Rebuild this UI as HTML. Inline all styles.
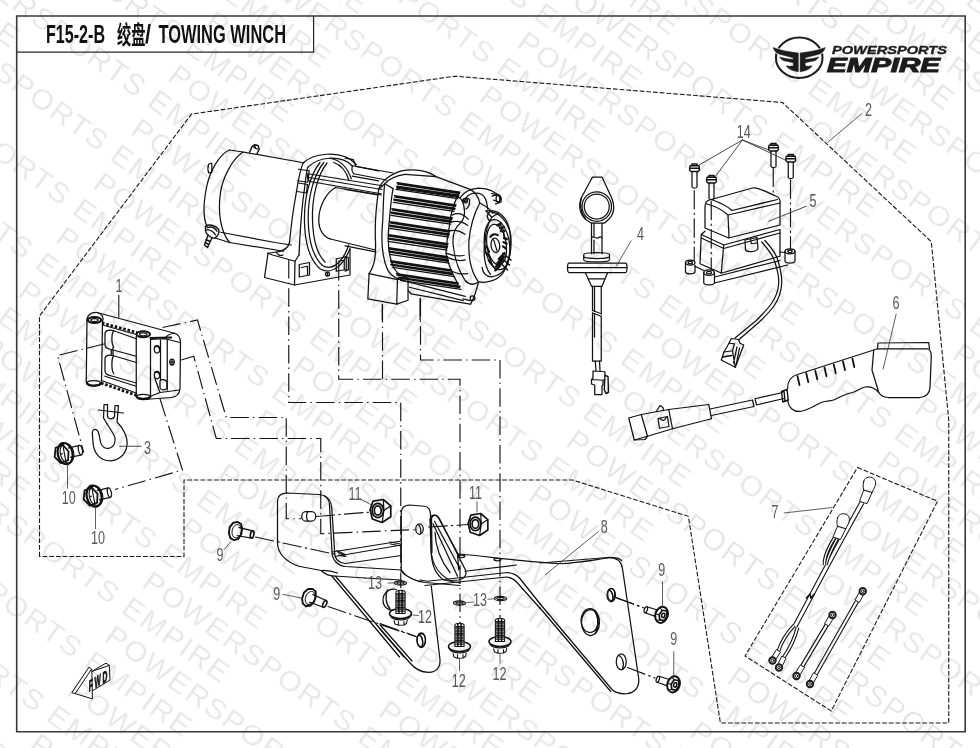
<!DOCTYPE html>
<html><head><meta charset="utf-8"><title>F15-2-B TOWING WINCH</title>
<style>
html,body{margin:0;padding:0;background:#fff;}
body{width:980px;height:748px;overflow:hidden;position:relative;font-family:"Liberation Sans","Noto Sans CJK SC",sans-serif;}
svg{position:absolute;left:0;top:0;display:block}
.z *{vector-effect:non-scaling-stroke}
.k{fill:none;stroke:#111;stroke-width:1.25;stroke-linecap:round;stroke-linejoin:round}
.kw{fill:#fff;stroke:#1a1a1a;stroke-width:1;stroke-linecap:round;stroke-linejoin:round}
.b{fill:none;stroke:#111;stroke-width:1.4;stroke-linecap:round;stroke-linejoin:round}
.t{fill:none;stroke:#2a2a2a;stroke-width:.7;stroke-linecap:round;stroke-linejoin:round}
.w{fill:#fff;stroke:#1a1a1a;stroke-width:1;stroke-linejoin:round}
.d{fill:none;stroke:#1a1a1a;stroke-width:1.1;stroke-dasharray:4.8 1.9}
.c{fill:none;stroke:#151515;stroke-width:1.15;stroke-dasharray:18.5 4.2 1.4 4.2}
.l{fill:none;stroke:#333;stroke-width:.8}
.n{font-family:"Liberation Sans",sans-serif;font-size:17px;fill:#444;}
</style></head><body>
<svg width="980" height="748" viewBox="0 0 980 748">
<g opacity="0.999">
<g font-family="'Liberation Sans', sans-serif" font-size="30" fill="#e5e5e5" stroke="#fff" stroke-width="0.3" letter-spacing="1.75">
<text transform="translate(976.5 -149.1) rotate(35.6)">POWERSPORTS EMPIRE</text>
<text transform="translate(939.1 -95.1) rotate(35.6)">POWERSPORTS EMPIRE</text>
<text transform="translate(702.7 -223.9) rotate(35.6)">POWERSPORTS EMPIRE</text>
<text transform="translate(901.6 -41.1) rotate(35.6)">POWERSPORTS EMPIRE</text>
<text transform="translate(665.2 -169.9) rotate(35.6)">POWERSPORTS EMPIRE</text>
<text transform="translate(864.1 12.9) rotate(35.6)">POWERSPORTS EMPIRE</text>
<text transform="translate(627.7 -115.9) rotate(35.6)">POWERSPORTS EMPIRE</text>
<text transform="translate(391.3 -244.7) rotate(35.6)">POWERSPORTS EMPIRE</text>
<text transform="translate(826.6 66.9) rotate(35.6)">POWERSPORTS EMPIRE</text>
<text transform="translate(590.2 -61.9) rotate(35.6)">POWERSPORTS EMPIRE</text>
<text transform="translate(353.8 -190.7) rotate(35.6)">POWERSPORTS EMPIRE</text>
<text transform="translate(789.1 120.9) rotate(35.6)">POWERSPORTS EMPIRE</text>
<text transform="translate(552.7 -7.9) rotate(35.6)">POWERSPORTS EMPIRE</text>
<text transform="translate(988.0 303.7) rotate(35.6)">POWERSPORTS EMPIRE</text>
<text transform="translate(316.4 -136.7) rotate(35.6)">POWERSPORTS EMPIRE</text>
<text transform="translate(751.6 174.9) rotate(35.6)">POWERSPORTS EMPIRE</text>
<text transform="translate(515.2 46.1) rotate(35.6)">POWERSPORTS EMPIRE</text>
<text transform="translate(950.5 357.7) rotate(35.6)">POWERSPORTS EMPIRE</text>
<text transform="translate(278.9 -82.7) rotate(35.6)">POWERSPORTS EMPIRE</text>
<text transform="translate(714.1 228.9) rotate(35.6)">POWERSPORTS EMPIRE</text>
<text transform="translate(42.5 -211.5) rotate(35.6)">POWERSPORTS EMPIRE</text>
<text transform="translate(477.7 100.1) rotate(35.6)">POWERSPORTS EMPIRE</text>
<text transform="translate(913.0 411.7) rotate(35.6)">POWERSPORTS EMPIRE</text>
<text transform="translate(241.4 -28.7) rotate(35.6)">POWERSPORTS EMPIRE</text>
<text transform="translate(676.6 282.9) rotate(35.6)">POWERSPORTS EMPIRE</text>
<text transform="translate(5.0 -157.5) rotate(35.6)">POWERSPORTS EMPIRE</text>
<text transform="translate(440.3 154.1) rotate(35.6)">POWERSPORTS EMPIRE</text>
<text transform="translate(875.5 465.7) rotate(35.6)">POWERSPORTS EMPIRE</text>
<text transform="translate(203.9 25.3) rotate(35.6)">POWERSPORTS EMPIRE</text>
<text transform="translate(639.1 336.9) rotate(35.6)">POWERSPORTS EMPIRE</text>
<text transform="translate(-32.5 -103.5) rotate(35.6)">POWERSPORTS EMPIRE</text>
<text transform="translate(402.8 208.1) rotate(35.6)">POWERSPORTS EMPIRE</text>
<text transform="translate(838.0 519.7) rotate(35.6)">POWERSPORTS EMPIRE</text>
<text transform="translate(-268.9 -232.3) rotate(35.6)">POWERSPORTS EMPIRE</text>
<text transform="translate(166.4 79.3) rotate(35.6)">POWERSPORTS EMPIRE</text>
<text transform="translate(601.6 390.9) rotate(35.6)">POWERSPORTS EMPIRE</text>
<text transform="translate(-70.0 -49.5) rotate(35.6)">POWERSPORTS EMPIRE</text>
<text transform="translate(365.3 262.1) rotate(35.6)">POWERSPORTS EMPIRE</text>
<text transform="translate(800.5 573.7) rotate(35.6)">POWERSPORTS EMPIRE</text>
<text transform="translate(-306.4 -178.3) rotate(35.6)">POWERSPORTS EMPIRE</text>
<text transform="translate(128.9 133.3) rotate(35.6)">POWERSPORTS EMPIRE</text>
<text transform="translate(564.2 444.9) rotate(35.6)">POWERSPORTS EMPIRE</text>
<text transform="translate(999.4 756.5) rotate(35.6)">POWERSPORTS EMPIRE</text>
<text transform="translate(-107.5 4.5) rotate(35.6)">POWERSPORTS EMPIRE</text>
<text transform="translate(327.8 316.1) rotate(35.6)">POWERSPORTS EMPIRE</text>
<text transform="translate(763.0 627.7) rotate(35.6)">POWERSPORTS EMPIRE</text>
<text transform="translate(-343.8 -124.3) rotate(35.6)">POWERSPORTS EMPIRE</text>
<text transform="translate(91.4 187.3) rotate(35.6)">POWERSPORTS EMPIRE</text>
<text transform="translate(526.7 498.9) rotate(35.6)">POWERSPORTS EMPIRE</text>
<text transform="translate(-145.0 58.5) rotate(35.6)">POWERSPORTS EMPIRE</text>
<text transform="translate(290.3 370.1) rotate(35.6)">POWERSPORTS EMPIRE</text>
<text transform="translate(725.5 681.7) rotate(35.6)">POWERSPORTS EMPIRE</text>
<text transform="translate(53.9 241.3) rotate(35.6)">POWERSPORTS EMPIRE</text>
<text transform="translate(489.2 552.9) rotate(35.6)">POWERSPORTS EMPIRE</text>
<text transform="translate(-182.5 112.5) rotate(35.6)">POWERSPORTS EMPIRE</text>
<text transform="translate(252.8 424.1) rotate(35.6)">POWERSPORTS EMPIRE</text>
<text transform="translate(688.1 735.7) rotate(35.6)">POWERSPORTS EMPIRE</text>
<text transform="translate(16.4 295.3) rotate(35.6)">POWERSPORTS EMPIRE</text>
<text transform="translate(451.7 606.9) rotate(35.6)">POWERSPORTS EMPIRE</text>
<text transform="translate(-219.9 166.5) rotate(35.6)">POWERSPORTS EMPIRE</text>
<text transform="translate(215.3 478.1) rotate(35.6)">POWERSPORTS EMPIRE</text>
<text transform="translate(-21.1 349.3) rotate(35.6)">POWERSPORTS EMPIRE</text>
<text transform="translate(414.2 660.9) rotate(35.6)">POWERSPORTS EMPIRE</text>
<text transform="translate(-257.4 220.5) rotate(35.6)">POWERSPORTS EMPIRE</text>
<text transform="translate(177.8 532.1) rotate(35.6)">POWERSPORTS EMPIRE</text>
<text transform="translate(-58.6 403.3) rotate(35.6)">POWERSPORTS EMPIRE</text>
<text transform="translate(376.7 714.9) rotate(35.6)">POWERSPORTS EMPIRE</text>
<text transform="translate(-294.9 274.5) rotate(35.6)">POWERSPORTS EMPIRE</text>
<text transform="translate(140.3 586.1) rotate(35.6)">POWERSPORTS EMPIRE</text>
<text transform="translate(-96.0 457.3) rotate(35.6)">POWERSPORTS EMPIRE</text>
<text transform="translate(339.2 768.9) rotate(35.6)">POWERSPORTS EMPIRE</text>
<text transform="translate(-332.4 328.5) rotate(35.6)">POWERSPORTS EMPIRE</text>
<text transform="translate(102.8 640.1) rotate(35.6)">POWERSPORTS EMPIRE</text>
<text transform="translate(-133.5 511.3) rotate(35.6)">POWERSPORTS EMPIRE</text>
<text transform="translate(65.4 694.1) rotate(35.6)">POWERSPORTS EMPIRE</text>
<text transform="translate(-171.0 565.3) rotate(35.6)">POWERSPORTS EMPIRE</text>
<text transform="translate(27.9 748.1) rotate(35.6)">POWERSPORTS EMPIRE</text>
<text transform="translate(-208.5 619.3) rotate(35.6)">POWERSPORTS EMPIRE</text>
<text transform="translate(-246.0 673.3) rotate(35.6)">POWERSPORTS EMPIRE</text>
<text transform="translate(-283.5 727.3) rotate(35.6)">POWERSPORTS EMPIRE</text>
</g>
<!-- 00_defs.svg -->
<defs>
<g id="fb">
<path d="M5,-4.3 L15.5,-4.3 M5,4.3 L15.5,4.3" fill="none" stroke="#151515" stroke-width="1.1"/>
<ellipse cx="15.5" cy="0" rx="1.7" ry="4.3" fill="none" stroke="#151515" stroke-width="1.1"/>
<ellipse cx="1.5" cy="0" rx="6.6" ry="9.6" fill="none" stroke="#111" stroke-width="2"/>
<ellipse cx="3.2" cy="0" rx="6" ry="9" fill="none" stroke="#111" stroke-width="1"/>
<path d="M-5.6,-7.0 L1.3,-8.0 L4.9,-1.2 L2.8,6.2 L-4.2,7.5 L-8.3,0.8 Z" fill="none" stroke="#111" stroke-width="1.6"/>
<path d="M1.2,-8 L0.6,6.6 M-2.5,-0.5 L-0.5,-0.5" fill="none" stroke="#111" stroke-width="1"/>
</g>
</defs>
<defs>
<g id="nut" fill="none" stroke="#111" stroke-width="1.5" stroke-linejoin="round">
<path d="M-7,-8.5 L2,-10 L8.5,-4.5 L8.5,5 L1,10 L-7.5,7 L-9.5,-1 Z"/>
<path d="M2,-10 L2.5,-0.5 L1,10 M2.5,-0.5 L8.5,-4.5" stroke-width="1.1"/>
<ellipse cx="-2.8" cy="-0.5" rx="4.9" ry="6.2"/><ellipse cx="-2.8" cy="-0.5" rx="3" ry="4"/>
</g>
<g id="b12" fill="none" stroke="#111" stroke-width="1.1" stroke-linejoin="round">
<ellipse cx="0" cy="1.5" rx="11" ry="5" stroke-width="1.5"/>
<path d="M-10.6,3 C-8,9.5 8,9.5 10.6,3" stroke-width="1.2"/>
<path d="M-4.6,-19.5 C-4.6,-22.5 4.6,-22.5 4.6,-19.5 L4.6,1.5 L-4.6,1.5 Z" fill="#fff"/>
<path d="M-4.4,-18.5 L4.4,-18.5 M-4.4,-16.8 L4.4,-16.8 M-4.4,-15.0 L4.4,-15.0 M-4.4,-13.2 L4.4,-13.2 M-4.4,-11.5 L4.4,-11.5 M-4.4,-9.8 L4.4,-9.8 M-4.4,-8.0 L4.4,-8.0 M-4.4,-6.2 L4.4,-6.2 M-4.4,-4.5 L4.4,-4.5 M-4.4,-2.8 L4.4,-2.8 M-4.4,-1.0 L4.4,-1.0" stroke-width="1.25" stroke="#222"/>
<path d="M-1.6,-21 L-1.6,1 M1.6,-21 L1.6,1" stroke-width="1.5"/>
<path d="M-6.5,8.3 L-5.5,12 L-2,13.3 L3.5,13 L6,11.5 L6.8,8 M-2,9.3 L-2,13.3 M3.5,9.2 L3.5,13"/>
</g>
<g id="w13" fill="none" stroke="#151515" stroke-width="1.2">
<ellipse cx="0" cy="0" rx="6" ry="2.2"/><ellipse cx="0" cy="0" rx="3.6" ry="1.1"/>
</g>
<g id="b9" fill="none" stroke="#111" stroke-linejoin="round">
<path d="M2,-4.2 L17,-3.7 M2,4.2 L17,3.7" stroke-width="1.2"/>
<ellipse cx="17" cy="0" rx="1.7" ry="3.7" stroke-width="1.7"/>
<path d="M-4,-7.5 L0,-9.3 L4,-8 L6,-3.5 L6.3,2 L4.5,7 L0.5,9.3 L-3.5,8 L-6,3.5 L-6.5,-2.5 Z" stroke-width="1.9"/>
<ellipse cx="1.2" cy="0" rx="4.6" ry="6.8" stroke-width="0.9"/>
</g>
</defs>
<defs>
<g id="b9h" fill="none" stroke="#111" stroke-linejoin="round">
<path d="M5,-3.4 L17,-3.2 M5,3.4 L17,3.2" stroke-width="1.2"/>
<ellipse cx="17" cy="0" rx="1.5" ry="3.2" stroke-width="1.2"/>
<ellipse cx="0.5" cy="0" rx="6.2" ry="8.2" stroke-width="2"/>
<path d="M-3.6,-4.8 L0.6,-5.4 L2.8,-0.6 L1.2,4.6 L-3,5.2 L-5.2,0.4 Z" stroke-width="1.7"/>
<ellipse cx="-1.3" cy="0" rx="1.6" ry="2.2" stroke-width="1.6"/>
<path d="M0.6,-5.4 L3.6,-6.6 M2.8,-0.6 L6,-1 M1.2,4.6 L4,6" stroke-width="1"/>
</g>
</defs>

<!-- 01_frame.svg -->
<g fill="none" stroke="#383838" stroke-width="1.6">
<path d="M16.7 16H965.2V731.8H16.7Z"/>
<path d="M16.7 52H313.6V16" stroke-width="1.25" stroke="#2a2a2a"/>
</g>
<text y="42.7" font-family="'Liberation Sans','Noto Sans CJK SC',sans-serif" font-weight="700" font-size="25" fill="#111"><tspan x="46" textLength="59" lengthAdjust="spacingAndGlyphs">F15-2-B</tspan><tspan x="117" font-size="25.5" dy="1.5" textLength="28.5" lengthAdjust="spacingAndGlyphs">绞盘</tspan><tspan x="145" dy="-1.5" textLength="6" lengthAdjust="spacingAndGlyphs">/</tspan><tspan x="158.5" textLength="127.5" lengthAdjust="spacingAndGlyphs">TOWING WINCH</tspan></text>

<!-- 02_logo.svg -->
<g transform="translate(770 32) scale(0.0749)">
<ellipse cx="390" cy="343" rx="311" ry="270" fill="none" stroke="#1c1c1c" stroke-width="27"/>
<g fill="none" stroke="#fff" stroke-width="24" stroke-linejoin="miter"><path d="M402,280 C520,268 640,245 737,208 C724,258 692,288 640,300 L470,345 L470,365 C540,360 600,350 652,333 C630,372 600,385 560,392 L470,410 L470,455 C500,458 530,458 562,452 C540,490 500,515 402,532 Z"/><path d="M378,280 C260,268 140,245 43,208 C56,258 88,288 140,300 L310,345 L310,365 C240,360 180,350 128,333 C150,372 180,385 220,392 L310,410 L310,455 C280,458 250,458 218,452 C240,490 280,515 378,532 Z"/></g>
<g fill="#1c1c1c" stroke="#1c1c1c" stroke-width="7" stroke-linejoin="miter"><path d="M402,280 C520,268 640,245 737,208 C724,258 692,288 640,300 L470,345 L470,365 C540,360 600,350 652,333 C630,372 600,385 560,392 L470,410 L470,455 C500,458 530,458 562,452 C540,490 500,515 402,532 Z"/><path d="M378,280 C260,268 140,245 43,208 C56,258 88,288 140,300 L310,345 L310,365 C240,360 180,350 128,333 C150,372 180,385 220,392 L310,410 L310,455 C280,458 250,458 218,452 C240,490 280,515 378,532 Z"/></g>
</g>
<g font-family="'Liberation Sans',sans-serif" font-weight="700" font-style="italic" fill="#1c1c1c">
<text x="832" y="53.8" font-size="11" textLength="115" lengthAdjust="spacingAndGlyphs" stroke="#1c1c1c" stroke-width="0.35">POWERSPORTS</text>
<text x="827" y="71.8" font-size="20.3" textLength="113" lengthAdjust="spacingAndGlyphs" stroke="#1c1c1c" stroke-width="1.1">EMPIRE</text>
</g>

<!-- 05_outlines.svg -->
<!-- group outline dashed -->
<g class="d">
<path d="M39.5,556.5 L39.5,316 L191.4,114.1 L454.7,76.2 L782.5,102.5 L931.3,241.7 L948.75,420 L948.75,723 L720.4,723 L688.4,516.3 L572.5,480 L184,480 L184,556.5 Z"/>
<path d="M857.5,467.5 L937.5,501.25 L831.25,711 L745,656 Z"/>
</g>
<!-- centre lines -->
<g class="c">
<path d="M288.75,260 L288.75,402.5 L400.75,402.5 L400.75,588"/>
<path d="M338.75,262 L338.75,379.25 L460,379.25 L460,625"/>
<path d="M382.5,304 L382.5,379.25"/>
<path d="M420.5,298 L420.5,360 L500,360 L500,620"/>
<path d="M162.5,327.5 L197.5,320 L226.25,417.5 L286.25,417.5 L286.25,518.75 L301.5,518.75"/>
<path d="M181.25,360 L193.75,356.25 L216.25,438.5 L320.75,438.5 L320.75,533.75 L417.5,529.5"/>
<path d="M105,343.75 L57.5,355.5 L83.75,452.5"/>
<path d="M160,398.75 L182.5,470 L115,489.5"/>
</g>

<!-- 10_winch_left.svg -->
<g transform="translate(190 125) scale(0.25)" class="k z">
<!-- motor -->
<path d="M158,100 C120,115 80,180 66,250 C52,320 52,370 68,406"/>
<path d="M212,108 C165,140 130,215 122,270 C112,340 118,420 158,470"/>
<path d="M158,100 L212,108 L454,151"/>
<path d="M158,470 L375,505"/>
<path d="M123,429 L340,470 L405,480"/>
<path d="M100,452 L158,470"/>
<!-- studs -->
<path d="M238,110 L248,86 L258,79 L272,82 L277,96 L268,115" class="b"/>
<path d="M250,86 L270,96 M258,79 L262,94"/>
<path d="M75,156 L87,153 L88,188 L75,192 C71,182 71,166 75,156Z"/>
<path d="M62,405 C75,395 100,400 115,418 C118,432 110,445 100,452 C85,455 68,440 62,425Z" class="b"/>
<path d="M70,410 C85,405 100,412 108,425 M66,420 C80,418 95,428 102,440" class="b"/>
<path d="M72,440 L58,480 L70,490 L88,452 M60,470 L76,478 M64,458 L80,466" class="b"/>
<!-- support 1 -->
<path d="M454,151 C470,135 505,120 545,117 C595,114 640,128 665,158"/>
<path d="M470,170 C490,150 520,135 560,133 C600,132 630,142 650,165"/>
<path d="M454,151 C440,170 432,230 422,290 C412,340 405,400 398,470 C392,495 370,505 345,508 L312,513"/>
<path d="M470,170 C462,210 458,260 452,300 C445,360 440,430 436,520"/>
<path d="M312,513 L298,610 L418,640 L640,600 L640,495"/>
<path d="M312,513 L330,520 L420,545 L436,520"/>
<path d="M420,545 L418,640"/>
<path d="M345,508 C350,520 360,525 372,520"/>
<path d="M437,558 L478,550 L478,600 L437,608Z M445,570 L470,565 L470,600"/>
<path d="M585,535 L625,528 L625,578 L585,585Z M593,545 L617,541 L617,578"/>
<circle cx="550" cy="596" r="8"/><path d="M550,590 L550,602"/>
<!-- ring flange of support 1 -->
<path d="M520,150 C480,200 455,290 458,390 C460,470 480,540 520,575 C545,590 575,585 600,560 C620,540 632,515 640,495"/>
<path d="M535,150 C495,200 470,290 473,385 C475,465 495,530 530,562 C552,575 575,570 597,548 C615,528 627,505 635,480"/>
<path d="M548,152 C510,200 487,290 490,380 C492,455 510,518 540,548"/>
<path d="M560,133 C600,140 630,170 645,215"/>
<path d="M575,150 C605,160 625,185 635,220"/>
<path d="M434,177 L477,183 L471,229 L431,223 M433,232 L470,238 L466,272 L428,266"/>
<!-- tie bar front -->
<path d="M472,195 L770,243 M480,226 L765,275 M472,195 C468,205 470,218 480,226"/>
<path d="M476,210 L768,258"/>
<!-- tie bar rear -->
<path d="M650,163 L812,192 M655,195 L785,220 M650,163 C646,175 648,188 655,195"/>
<!-- drum -->
<path d="M582,250 L765,280 M562,456 L742,500"/>
<path d="M582,250 C540,275 515,330 515,380 C515,420 535,450 562,456"/>

</g>

<!-- 11_winch_right.svg -->
<g transform="translate(345 140) scale(0.2406)" class="k z">
<!-- support 2 flange -->
<path d="M100,555 C125,520 130,480 126,400 C124,330 132,260 140,205 C150,170 190,140 240,127 C290,118 345,128 378,152"/>
<path d="M165,182 C158,240 160,300 155,360 C150,430 158,500 180,545 C195,570 225,582 262,590"/>
<path d="M200,202 C190,250 188,300 182,360 C176,430 185,495 205,535 C220,558 240,570 262,575"/>
<path d="M140,205 L165,182 L200,202 M165,182 C185,160 215,148 250,143"/>
<path d="M100,555 L95,660 L215,682 L262,666 L262,575"/>
<path d="M100,555 L130,562 L218,580 L262,575 M218,580 L215,682"/>
<path d="M155,682 L155,748"/>
<!-- rear bar into flange -->
<path d="M0,75 L35,82 L45,110 L140,128 M30,150 L140,170 M0,205 L135,228"/>
<path d="M0,440 L128,465"/>
<path d="M0,485 L14,488 L14,540 L0,545"/>
<!-- gearbox body top/bottom silhouettes -->
<path d="M215,200 L478,240 M250,143 L378,152 L520,205"/>
<path d="M262,590 L500,650 M268,612 L492,668 M275,640 L520,682 M262,625 L275,640"/>
<!-- rib bands -->
<g class="b" style="stroke-width:1.5"><path d="M217,178 L477,217 M219,183 L475,222 M215,192 L473,230 M217,196 L471,235 M206,232 L461,270 M208,237 L459,275 M203,246 L457,284 M205,250 L455,289 M195,286 L446,324 M197,291 L444,329 M192,300 L442,337 M194,304 L440,342 M188,340 L435,377 M190,345 L433,382 M186,354 L433,391 M188,358 L431,396 M182,394 L428,431 M184,399 L426,436 M180,408 L426,444 M182,412 L424,449 M181,448 L426,485 M183,453 L424,490 M183,462 L430,499 M185,466 L428,504 M189,502 L441,540 M191,507 L439,545 M191,516 L447,554 M193,520 L445,559 M214,556 L470,594 M216,561 L468,599 M222,570 L478,608 M224,574 L476,613"/></g>
<path d="M212,205 L469,244 M201,259 L453,297 M191,313 L439,350 M185,367 L431,404 M179,421 L424,458 M185,475 L433,512 M198,529 L455,568 M231,583 L482,621"/>
<path d="M470,226 C455,260 440,300 436,342 C430,390 420,430 420,470 C425,510 440,545 470,600"/>
<path d="M478,240 C500,270 505,320 480,345 C455,365 445,400 450,440 C455,490 470,540 500,585"/>
<path d="M436,342 C460,335 490,340 510,355 M420,470 C445,480 470,485 495,480"/>
<path d="M445,312 C470,300 495,310 512,330 M432,378 C455,372 480,378 498,392"/>
<path d="M425,488 C450,500 475,505 500,498 M436,540 C460,555 485,560 510,555"/>
<!-- end cap -->
<path d="M478,240 C495,215 520,203 555,200 C595,200 630,215 650,245"/>
<path d="M520,205 C540,215 555,235 560,262 C585,275 605,290 615,305"/>
<path d="M560,262 C540,300 520,360 515,420 C512,490 525,550 555,590 C548,620 540,650 522,682"/>
<path d="M600,298 C640,300 675,335 688,390 C695,445 685,510 655,555 C630,585 590,595 555,590"/>
<path d="M500,585 C515,600 535,605 555,590"/>
<!-- knob -->
<ellipse cx="632" cy="435" rx="52" ry="105" transform="rotate(-8 632 435)"/>
<ellipse cx="630" cy="435" rx="40" ry="85" transform="rotate(-8 630 435)"/>
<ellipse cx="625" cy="438" rx="18" ry="30" transform="rotate(-8 625 438)"/>
<path d="M618,415 L632,462"/>
<g class="b">
<path d="M600,300 C590,310 588,325 600,335 M655,470 L690,500 M650,490 L684,520 M645,510 L676,540"/>
<path d="M640,350 C655,360 662,380 660,400 M600,480 C605,510 615,530 630,540"/>
<path d="M585,395 C580,420 580,450 588,475"/>
</g>
<!-- bolts -->
<circle cx="500" cy="252" r="9"/><circle cx="500" cy="252" r="4"/>
<path d="M610,222 L632,228 C645,232 648,248 640,258 L618,250"/>
<ellipse cx="636" cy="243" rx="8" ry="14"/>
<circle cx="530" cy="658" r="10"/><path d="M490,660 L520,668"/>
<path d="M312,660 L312,748"/>
</g>

<!-- 12_winch_knob.svg -->
<g transform="translate(440 170) scale(0.17376)" class="k z">
<path d="M265,235 C290,232 315,236 332,242 C365,262 392,300 402,350 C410,420 402,500 380,556 C365,590 335,612 295,615 C268,612 248,600 242,560"/>
<path d="M265,235 L298,272 L336,248"/>
<path d="M298,272 C280,300 262,360 256,420 C250,490 258,560 290,600"/>
<g class="b" style="stroke-width:2.2">
<path d="M330,318 L352,308 M345,335 L368,328 M350,352 L372,350"/>
<path d="M368,392 L385,398 M365,415 L384,425 M362,440 L380,452"/>
<path d="M338,512 L372,478 M330,535 L368,500 M322,556 L358,524 M318,578 L345,552"/>
<path d="M268,440 L282,470 M272,480 L288,505 M280,520 L296,540"/>
<path d="M290,385 C300,370 318,365 332,375"/>
</g>
<path d="M150,160 C165,140 195,130 225,135 C250,142 262,160 268,185 L275,225"/>
<path d="M130,175 C140,160 160,158 170,170 C172,190 165,215 150,225"/>
<path d="M300,150 L335,140 C350,145 355,165 350,185 L320,195" class="b"/>
</g>

<!-- 20_fairlead.svg -->
<g transform="translate(30 280) scale(0.25)" class="k z">
<!-- fairlead frame -->
<path d="M228,160 C228,140 245,128 268,130 L578,213 C595,218 602,232 602,250 L600,435 C598,455 585,468 565,470 L455,478"/>
<path d="M268,130 C290,135 296,150 290,168 M578,213 C560,215 545,222 540,235"/>
<path d="M228,160 L225,405 C225,418 238,424 258,424 L280,420"/>
<path d="M290,168 L286,405"/>
<path d="M425,225 L425,462 C430,475 470,478 482,465 L482,238"/>
<path d="M482,238 L540,235 L600,250 M482,465 L520,450 L598,440"/>
<path d="M549,238 L549,440"/>
<g class="b" style="stroke-width:2.1"><ellipse cx="258" cy="160" rx="27" ry="12"/><ellipse cx="453" cy="217" rx="27" ry="12"/><path d="M228,412 C235,426 278,426 284,412 M426,466 C433,480 476,480 482,466 M482,232 L565,230"/></g><ellipse cx="258" cy="160" rx="15" ry="6"/>
<ellipse cx="453" cy="217" rx="15" ry="6"/>
<ellipse cx="255" cy="412" rx="27" ry="10"/>
<ellipse cx="453" cy="467" rx="27" ry="10"/>
<!-- knurled edges -->
<g class="b" style="stroke-width:2.8;stroke-dasharray:2.6 1.8;stroke-linecap:butt">
<path d="M288,172 L428,210"/><path d="M284,412 L428,462"/>
</g>
<path d="M290,180 L425,218 M286,402 L425,452"/>
<!-- horizontal rollers -->
<path d="M300,215 C300,200 320,198 335,203 L425,235 M300,215 L300,260 C300,270 310,275 325,278 L425,305"/>
<path d="M335,203 C325,215 325,255 335,268"/>
<path d="M300,315 C300,300 320,298 335,303 L425,330 M300,315 L300,365 C300,378 315,382 330,385 L425,412"/>
<path d="M335,303 C325,315 325,360 335,375"/>
<path d="M325,278 L325,300 M332,268 L332,300"/>
<path d="M300,385 L330,395 L425,425"/>
<!-- side plate holes -->
<ellipse cx="508" cy="277" rx="11" ry="15"/><path d="M500,268 C508,262 516,268 518,277"/>
<ellipse cx="508" cy="380" rx="11" ry="15"/><path d="M500,371 C508,365 516,371 518,380"/>
<ellipse cx="568" cy="328" rx="9" ry="12"/><path d="M560,328 L576,328 M568,318 L568,338"/>
<path d="M520,405 C520,395 545,395 548,410 L548,432 C540,445 522,440 520,430Z"/>
<path d="M522,240 L522,400 M500,395 L520,450"/>
<!-- leader 1 -->
<path d="M355,60 L355,150" style="stroke:#333;stroke-width:.9"/>
<!-- hook -->
<path d="M274,520 L374,532"/>
<path d="M296,498 L310,498 L310,546 C312,558 334,558 338,546 L340,502 L354,502 L348,568 C372,592 392,628 388,660 C384,701 352,723 316,723 C280,721 254,693 252,648 C251,628 248,616 250,606 C252,596 266,594 272,606 C278,620 280,636 282,648 C286,668 304,678 320,672 C336,666 342,648 340,632 C336,612 316,592 294,552 Z"/>
<path d="M360,665 L445,665" style="stroke:#333;stroke-width:.9"/>
</g>
<use href="#fb" transform="translate(63.5 454) rotate(-13) scale(1.12)"/>
<use href="#fb" transform="translate(92.5 496.5) rotate(-13) scale(1.12)"/>
<path class="l" d="M67.5,464 L67.5,488.5 M95.5,506.5 L95.5,529"/>

<!-- 30_bracket.svg -->
<g transform="translate(215 470) scale(0.25)" class="k z">
<!-- tab 1 -->
<path d="M250,125 C250,102 265,92 288,92 L415,98 C440,100 456,112 458,138 L468,330 C470,362 492,383 522,386 L745,400"/>
<path d="M438,103 C455,112 465,128 467,150 L479,335 C481,358 497,372 522,374"/>
<path d="M250,125 L250,295 C252,335 285,368 335,385 L425,402 C440,418 455,424 478,424 L600,432"/>
<path d="M425,402 C450,400 470,405 490,412"/>
<rect x="347" y="166" width="56" height="38" rx="16" ry="18"/>
<path d="M372,166 C364,175 364,195 372,204"/>
<!-- base lines -->
<path d="M469,328 L745,284 M480,346 L745,300 M522,374 L745,342"/>
<path d="M488,322 L520,338 M492,330 L524,346 M700,288 L742,296 M702,296 L744,304"/>
<!-- diagonal edge of left wing -->
<path d="M468,425 L738,748 M482,425 L756,748"/>
<!-- tab 2 -->
<path d="M745,165 C748,148 760,140 778,140 L838,145 C855,148 862,160 862,178 L865,335 C868,380 885,420 915,440 L980,452"/>
<path d="M745,165 L745,405"/>
<ellipse cx="818" cy="236" rx="15" ry="21"/><path d="M812,218 C822,222 826,245 822,255"/>
<path d="M866,195 C868,180 885,176 893,190 L980,350"/>
<path d="M878,205 L980,395 M866,195 L868,330"/>
<path d="M745,405 C770,430 800,445 840,450 L980,462"/>
<path d="M600,432 L745,440 M745,400 L760,418"/>
<!-- big hole behind bolt 12 -->
<path d="M725,478 C700,470 672,490 672,520 C672,548 695,565 715,560"/>
<path d="M690,480 C680,500 682,535 700,555"/>
<!-- hole lower -->
<ellipse cx="825" cy="682" rx="17" ry="28"/><path d="M815,660 C830,665 835,695 828,708"/>
<!-- dash-dot -->
<g class="c"><path d="M405,186 L625,168"/><path d="M162,268 L520,346"/><path d="M452,546 L808,668"/></g>
</g>
<g transform="translate(420 470) scale(0.25)" class="k z">
<!-- gusset -->
<path d="M40,200 C42,178 65,172 78,195 L182,400 C188,420 178,436 155,440 L120,442"/>
<path d="M52,215 L150,425 M40,200 L45,330 C50,380 80,420 120,442"/>
<path d="M60,250 C62,300 80,360 120,410"/>
<!-- top surface and right wing -->
<path d="M150,335 C300,350 450,370 560,375 C640,372 720,355 770,350 C790,350 800,355 806,362"/>
<path d="M180,405 L385,380 M0,440 L30,445 L350,410 C375,412 388,420 398,432 L480,535"/>
<path d="M20,462 L345,428 C365,430 378,438 388,450 L480,553"/>
<ellipse cx="165" cy="345" rx="14" ry="5"/><ellipse cx="310" cy="358" rx="14" ry="5"/>
<path d="M150,335 L155,400"/>
<!-- holes -->
<ellipse cx="765" cy="498" rx="14" ry="24"/><path d="M757,480 C770,485 775,510 770,520"/>
<ellipse cx="682" cy="610" rx="36" ry="52"/><path d="M700,568 C715,590 715,635 700,655"/>
<g class="c"><path d="M35,228 L195,218"/><path d="M785,510 L893,550"/></g>
</g>
<g transform="translate(380 561) scale(0.25)" class="k z">
<!-- left wing lower -->
<path d="M0,272 L120,408 C140,432 165,445 195,445 C225,445 242,425 240,395 L205,100"/>
<path d="M0,255 L128,400"/>
<ellipse cx="165" cy="315" rx="17" ry="28"/><path d="M155,293 C170,298 175,328 168,341"/>
<g class="c"><path d="M0,250 L140,300"/></g>
</g>
<g transform="translate(540 540) scale(0.25)" class="k z">
<path d="M0,92 L270,70 C305,68 325,85 330,115 L395,555 C398,590 378,612 345,615 C318,616 300,610 288,598 L0,255"/>
<path d="M0,272 L283,606"/>
<ellipse cx="285" cy="220" rx="17" ry="27"/><path d="M277,200 C290,205 295,230 290,242"/>
<ellipse cx="200" cy="322" rx="36" ry="48"/><path d="M218,283 C235,300 235,345 220,362"/>
<ellipse cx="325" cy="487" rx="20" ry="32"/><path d="M315,462 C332,468 338,500 330,514"/>
<g class="c"><path d="M305,232 L415,272"/><path d="M350,510 L460,552"/></g>
</g>
<!-- fasteners -->
<use href="#b9" transform="translate(235.5 531) rotate(12)"/>
<use href="#b9" transform="translate(309 597.5) rotate(22)"/>
<use href="#b9h" transform="translate(662 615) rotate(198)"/>
<use href="#b9h" transform="translate(674 684.5) rotate(198)"/>
<use href="#nut" transform="translate(381 511) scale(1.15)"/>
<use href="#nut" transform="translate(478.5 524.5) scale(1.1)"/>
<use href="#b12" transform="translate(400.5 612)"/>
<use href="#b12" transform="translate(459.5 645)"/>
<use href="#b12" transform="translate(500 640)"/>
<use href="#w13" transform="translate(400.5 583)"/>
<use href="#w13" transform="translate(459.5 603)"/>
<use href="#w13" transform="translate(500.5 598.5)"/>

<!-- 40_switch.svg -->
<g transform="translate(520 150) scale(0.25)" class="k z">
<path d="M290,108 L328,108 L366,190 C382,230 374,262 350,282 L338,292 L285,292 L268,282 C238,260 232,225 246,190 Z"/>
<circle cx="307" cy="226" r="59"/><circle cx="307" cy="226" r="50"/>
<path d="M246,190 C238,215 240,250 262,275"/>
<path d="M286,292 L286,415 M328,292 L328,415 M296,292 L296,345 M296,360 L296,415"/>
<path d="M286,350 C295,340 305,360 315,350 C320,345 325,348 328,352"/>
<path d="M255,418 C255,408 358,408 358,418 L358,440 C358,450 255,450 255,440 Z"/>
<path d="M255,428 C270,436 345,436 358,428"/>
<path d="M196,452 L422,452 C430,452 430,490 422,490 L196,490 C188,490 188,452 196,452 Z"/>
<path d="M190,470 L428,470"/>
<path d="M262,492 L286,545 L328,545 L350,492 M272,515 L340,515"/>
<path d="M290,545 L290,642 M325,545 L325,655 M298,545 L298,646"/>
<path d="M290,642 L325,655 M290,652 L325,665"/>
<path d="M290,652 L290,748 M325,665 L325,748 M298,656 L298,748"/>
</g>
<g transform="translate(600 290) scale(0.25)" class="k z">
<!-- cable of switch continues (left edge) -->
<path d="M-30,188 L-30,284 M5,188 L5,284 M-30,284 L5,284"/>
<path d="M-19,284 L-16,322 M-2,284 L0,322"/>
<path d="M-28,324 L20,327 L19,358 L12,361 L12,380 L8,382 L8,418 L-21,418 L-21,380 L-34,376 L-34,358 L-28,352 Z M-34,358 L12,361"/>
<path d="M20,342 L32,346 L34,409 L24,414 L17,399 L19,358" class="b"/>
<!-- solenoid wires -->
<path d="M647,-192 C675,-160 695,-135 700,-110 C710,-80 716,-55 715,-28 C713,5 702,32 685,55 C668,80 645,102 625,122 L540,192"/>
<path d="M660,-198 C690,-165 708,-140 713,-113 C722,-82 728,-55 727,-28 C725,8 714,38 697,62 C680,86 658,108 637,128 L554,200"/>
<!-- small connector -->
<path d="M525,194 L554,198 L560,213 L575,220 L541,309 L485,280 L496,248 L516,213 Z"/>
<path d="M496,248 L530,243 L541,309 M530,243 L538,215 M548,228 L534,292 M558,232 L545,298 M516,213 L538,215" />
<path d="M490,268 L528,262" class="b"/>
<!-- remote plug -->
<path d="M115,512 L165,498 L275,478 L290,555 L190,585 L137,600 Z"/>
<path d="M165,498 L190,585 M137,600 L180,598 L190,585"/>
<path d="M225,486 L240,462 L252,470 L254,482"/>
<path d="M232,514 L270,506 L276,546 L238,553 Z M240,514 C250,525 258,525 266,508"/>
<path d="M275,478 L435,458 L446,515 L290,555"/>
<path d="M440,476 L610,440 M446,502 L616,466 M610,440 L616,466"/>
<path d="M620,435 L730,410 M626,460 L736,434 M620,435 L626,460"/>
</g>
<g transform="translate(735 290) scale(0.25)" class="k z">
<path d="M186,406 L208,398 L213,440 L191,448 Z M196,403 L200,446" class="b"/>
<path d="M210,395 C210,365 225,345 250,338 L555,240"/>
<path d="M211,440 C213,470 235,490 265,485 C300,478 320,460 345,450 C370,440 385,446 400,438 C420,428 440,415 470,410 C490,405 500,392 520,388 C545,384 562,395 575,410"/>
<path d="M555,240 L570,235 L770,235 C783,238 786,250 785,270 L780,390 C778,415 765,428 740,430 L612,430 C592,428 582,422 575,410 L548,320 Z"/>
<path d="M570,235 L572,212 L775,210 L778,236"/>
<g class="b" style="stroke-width:1.8"><path d="M250,345 L258,380 M285,333 L293,368 M321,322 L329,357 M358,310 L366,345 M395,298 L403,333 M432,286 L440,320 M470,275 L477,308"/></g>
</g>

<!-- 41_solenoid.svg -->
<g transform="translate(670 120) scale(0.25)" class="k z">
<!-- cover -->
<path d="M140,345 C140,328 150,320 165,318 L330,272 C345,270 360,275 425,305 C438,310 442,320 440,335 L440,420 L235,472 L140,432 Z"/>
<path d="M145,335 C180,345 212,360 232,380 L440,332 M232,380 L236,470"/>
<path d="M165,318 C200,330 230,345 248,362 L430,318"/>
<!-- base -->
<path d="M140,445 L125,458 L120,575 L205,612 L215,500 L125,458"/>
<path d="M215,500 L440,438 L440,528"/>
<path d="M125,472 L215,514 L440,452"/>
<path d="M205,612 L215,610 L440,545 L440,528"/>
<!-- feet -->
<ellipse cx="81" cy="570" rx="19" ry="10"/><ellipse cx="81" cy="570" rx="9" ry="5"/>
<path d="M62,570 L62,608 C65,618 95,618 100,608 L100,580"/>
<ellipse cx="156" cy="610" rx="21" ry="11"/><ellipse cx="156" cy="610" rx="10" ry="5"/>
<path d="M135,610 L135,652 C140,662 172,662 178,652 L178,612"/>
<ellipse cx="480" cy="525" rx="20" ry="10"/><ellipse cx="480" cy="525" rx="9" ry="5"/>
<path d="M460,525 L460,565 C465,575 495,575 500,565 L500,525"/>
<path d="M100,585 L135,602 M178,652 L470,580 M178,628 L440,562 M440,528 L460,530"/>
<!-- connector tab -->
<path d="M300,480 L348,470 L352,515 C345,528 310,530 302,520 Z M322,476 L325,495 L345,492"/>
<!-- bolts 14 -->
<g id="b14">
<path d="M80,183 L116,183 L118,200 L112,206 L84,206 L78,200 Z M86,183 L88,176 L108,176 L110,183 M78,193 L118,193" class="b"/>
<path d="M88,206 L88,268 C92,274 104,274 108,268 L108,206"/>
</g>
<use href="#b14" transform="translate(68 46)"/>
<use href="#b14" transform="translate(316 -82)"/>
<use href="#b14" transform="translate(385 -38)"/>
<g class="c"><path d="M97,282 L97,560"/><path d="M165,325 L165,600"/><path d="M413,192 L413,290"/><path d="M482,240 L482,518"/></g>
<!-- leaders 14 -->
<g style="stroke:#333;stroke-width:.9"><path d="M290,80 L116,180 M290,80 L182,225 M290,80 L400,122 M290,80 L465,162"/>
<path d="M545,345 L395,405"/></g>
</g>

<!-- 42_cables.svg -->
<g transform="translate(735 455) scale(0.25)" class="k z">
<g fill="none" stroke-linecap="butt">
<path d="M508,190 L425,340 L368,445 L240,685" stroke="#111" stroke-width="5.2"/><path d="M508,190 L425,340 L368,445 L240,685" stroke="#fff" stroke-width="3"/>
<path d="M410,332 C395,360 372,400 364,440" stroke="#111" stroke-width="3.6"/><path d="M410,332 C395,360 372,400 364,440" stroke="#fff" stroke-width="1.4"/>
<path d="M400,328 C380,360 355,405 358,440" stroke="#111" stroke-width="3.6"/><path d="M400,328 C380,360 355,405 358,440" stroke="#fff" stroke-width="1.4"/>
<path d="M367,680 L269,844" stroke="#111" stroke-width="4.4"/><path d="M367,680 L269,844" stroke="#fff" stroke-width="2.2"/>
<path d="M488,585 L323,876" stroke="#111" stroke-width="4.4"/><path d="M488,585 L323,876" stroke="#fff" stroke-width="2.2"/>
<path d="M236,682 C205,715 185,750 174,783" stroke="#111" stroke-width="3.8"/><path d="M236,682 C205,715 185,750 174,783" stroke="#fff" stroke-width="1.6"/>
<path d="M250,690 C240,730 222,770 196,808" stroke="#111" stroke-width="3.8"/><path d="M250,690 C240,730 222,770 196,808" stroke="#fff" stroke-width="1.6"/>
</g>
<path class="kw" d="M515,105 C518,85 550,82 560,100 C568,118 555,135 548,150 L528,195 L498,185 L515,140 C512,128 512,115 515,105 Z"/>
<path d="M515,140 L548,150"/>
<path class="kw" d="M410,252 C413,232 445,228 455,246 C463,264 450,280 443,295 L422,338 L392,328 L410,285 C407,275 407,262 410,252 Z"/>
<path d="M410,285 L443,295"/>
<path d="M285,572 L300,556 L303,572 L318,556" class="b"/>
<g class="kw">
<path d="M165,816 L182,788 L166,778 L149,806 Z"/><circle cx="150" cy="822" r="13" style="stroke-width:1.9"/><circle cx="150" cy="822" r="5.5"/>
<path d="M190,842 L204,813 L187,804 L173,834 Z"/><circle cx="176" cy="850" r="13" style="stroke-width:1.9"/><circle cx="176" cy="850" r="5.5"/>
<path d="M375,646 L358,675 L375,684 L392,656 Z"/><circle cx="390" cy="640" r="13" style="stroke-width:1.9"/><circle cx="390" cy="640" r="5.5"/>
<path d="M261,878 L278,849 L261,840 L244,868 Z"/><circle cx="246" cy="884" r="13" style="stroke-width:1.9"/><circle cx="246" cy="884" r="5.5"/>
<path d="M496,552 L480,580 L497,590 L513,561 Z"/><circle cx="511" cy="545" r="13" style="stroke-width:1.9"/><circle cx="511" cy="545" r="5.5"/>
<path d="M315,909 L331,881 L314,871 L298,900 Z"/><circle cx="300" cy="916" r="13" style="stroke-width:1.9"/><circle cx="300" cy="916" r="5.5"/>
</g>
</g>

<g font-family="'Liberation Sans',sans-serif" font-size="17.5" fill="#585858" text-anchor="middle">
<text transform="translate(119 292.3) scale(0.72 1)">1</text>
<text transform="translate(868.5 116.3) scale(0.72 1)">2</text>
<text transform="translate(147.5 453.8) scale(0.72 1)">3</text>
<text transform="translate(640.5 239.8) scale(0.72 1)">4</text>
<text transform="translate(813 207.3) scale(0.72 1)">5</text>
<text transform="translate(896 308.8) scale(0.72 1)">6</text>
<text transform="translate(775 518.3) scale(0.72 1)">7</text>
<text transform="translate(604.25 532.55) scale(0.72 1)">8</text>
<text transform="translate(220 561.3) scale(0.72 1)">9</text>
<text transform="translate(276.75 600.05) scale(0.72 1)">9</text>
<text transform="translate(661.75 576.3) scale(0.72 1)">9</text>
<text transform="translate(673.75 645.05) scale(0.72 1)">9</text>
<text transform="translate(68.75 503.8) scale(0.72 1)">10</text>
<text transform="translate(98 543.8) scale(0.72 1)">10</text>
<text transform="translate(355 500.05) scale(0.72 1)">11</text>
<text transform="translate(475.5 498.8) scale(0.72 1)">11</text>
<text transform="translate(425 622.55) scale(0.72 1)">12</text>
<text transform="translate(458.75 687.3) scale(0.72 1)">12</text>
<text transform="translate(499.5 679.8) scale(0.72 1)">12</text>
<text transform="translate(375 588.8) scale(0.72 1)">13</text>
<text transform="translate(480 606.3) scale(0.72 1)">13</text>
<text transform="translate(743.75 137.55) scale(0.72 1)">14</text>
</g>
<path class="l" d="M118.75,295 L118.75,317.5 M862.5,113 L827.5,142.5 M631.25,240.5 L616.25,266.25 M896.25,313.75 L883,369.5 M783.75,513 L832.5,507.5 M598.75,531.25 L545,575 M231.25,541.25 L223.75,550 M282.5,594.25 L302.5,598.25 M662.5,581.25 L662.5,607.5 M673.75,651.25 L673.75,677.5 M360.4,498.9 L371.6,505 M477,501.25 L477,512.5 M412.5,615 L418.75,615.5 M459.5,658.5 L459.5,671 M500,653.5 L500,663.5 M387.5,583 L396.25,583 M466.25,602.5 L473.75,602 M487.5,599.25 L494.5,598.75"/>
<g class="k" style="stroke-width:1"><path d="M72.1,692.3 L89,667.1 L91.8,669.3 L92.4,698.5 Z M75.3,693.4 L91.2,669.7"/><path d="M92.4,671.3 L109.3,665.4 L110,680.1 L92.4,690.8 M92.4,671.3 L93.8,670.2 L106,663.2 L109.3,665.4"/></g>
<text transform="translate(88.8 692) skewY(-31) scale(0.42 1)" font-family="'Liberation Sans',sans-serif" font-weight="700" font-size="16" fill="#111" stroke="#111" stroke-width="0.8" letter-spacing="4">FWD</text></g></svg>
</body></html>
